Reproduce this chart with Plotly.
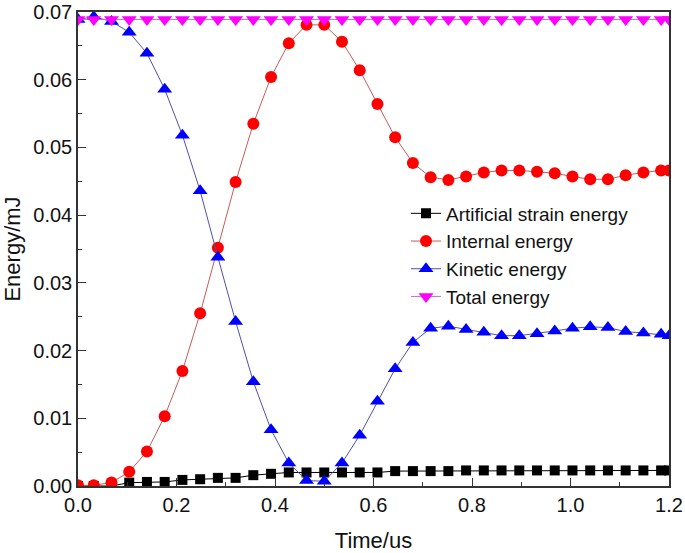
import plotly.graph_objects as go

# time points (us)
time_us = [0.0, 0.032, 0.068, 0.104, 0.140, 0.176, 0.212, 0.248, 0.284, 0.320,
           0.356, 0.392, 0.428, 0.464, 0.500, 0.536, 0.572, 0.608, 0.644, 0.680,
           0.716, 0.752, 0.788, 0.824, 0.860, 0.896, 0.932, 0.968, 1.004, 1.040,
           1.076, 1.112, 1.148, 1.184, 1.200]

# energies (mJ)
artificial_strain = [0.0, 0.0, 0.0, 0.0005, 0.0006, 0.0006, 0.0009, 0.0010, 0.0012, 0.0012,
                     0.0016, 0.0018, 0.0020, 0.0020, 0.0020, 0.0020, 0.0020, 0.0020, 0.0022, 0.0022,
                     0.0022, 0.0022, 0.0023, 0.0023, 0.0023, 0.0023, 0.0023, 0.0023, 0.0023, 0.0023,
                     0.0023, 0.0023, 0.0023, 0.0023, 0.0023]

internal = [0.0001, 0.0001, 0.0005, 0.0021, 0.0051, 0.0103, 0.0170, 0.0255, 0.0352, 0.0449,
            0.0535, 0.0604, 0.0654, 0.0681, 0.0681, 0.0656, 0.0614, 0.0564, 0.0515, 0.0477,
            0.0456, 0.0452, 0.0457, 0.0463, 0.0466, 0.0466, 0.0464, 0.0462, 0.0457, 0.0453,
            0.0453, 0.0459, 0.0463, 0.0466, 0.0466]

kinetic = [0.0689, 0.0693, 0.0686, 0.0670, 0.0639, 0.0586, 0.0518, 0.0436, 0.0338, 0.0243,
           0.0154, 0.0083, 0.0034, 0.0008, 0.0007, 0.0034, 0.0075, 0.0125, 0.0173, 0.0212,
           0.0233, 0.0236, 0.0231, 0.0227, 0.0222, 0.0222, 0.0225, 0.0229, 0.0233, 0.0235,
           0.0234, 0.0228, 0.0226, 0.0224, 0.0222]

total = [0.0689] * len(time_us)

font = "Liberation Sans, Arial, sans-serif"

fig = go.Figure()

fig.add_trace(go.Scatter(x=time_us, y=artificial_strain, mode="lines+markers",
                         name="Artificial strain energy",
                         line=dict(color="#000000", width=1),
                         marker=dict(symbol="square", size=10, color="#000000")))
fig.add_trace(go.Scatter(x=time_us, y=internal, mode="lines+markers",
                         name="Internal energy",
                         line=dict(color="rgb(200,90,90)", width=1),
                         marker=dict(symbol="circle", size=12, color="#ff0000")))
fig.add_trace(go.Scatter(x=time_us, y=kinetic, mode="lines+markers",
                         name="Kinetic energy",
                         line=dict(color="rgb(80,80,170)", width=1),
                         marker=dict(symbol="triangle-up", size=13, color="#0000ff")))
fig.add_trace(go.Scatter(x=time_us, y=total, mode="lines+markers",
                         name="Total energy",
                         line=dict(color="rgb(200,110,200)", width=1),
                         marker=dict(symbol="triangle-down", size=13, color="#ff00ff")))

axis_common = dict(showline=True, linecolor="#333333", linewidth=1.5, mirror=True,
                   showgrid=False, zeroline=False, ticks="inside", ticklen=8,
                   tickcolor="#333333", tickwidth=1, automargin=False,
                   tickfont=dict(family=font, size=20, color="#111111"))

fig.update_xaxes(range=[0, 1.2], dtick=0.2, tickformat=".1f",
                 minor=dict(ticks="inside", ticklen=4, dtick=0.1, tickcolor="#333333"),
                 title=dict(text="Time/us", font=dict(family=font, size=22, color="#111111"),
                            standoff=20),
                 **axis_common)
fig.update_yaxes(range=[0, 0.07], dtick=0.01, tickformat=".2f",
                 minor=dict(ticks="inside", ticklen=4, dtick=0.005, tickcolor="#333333"),
                 title=dict(text="Energy/mJ", font=dict(family=font, size=22, color="#111111"),
                            standoff=8),
                 **axis_common)

fig.update_layout(
    width=685, height=553,
    margin=dict(l=78, r=16, t=12, b=67),
    plot_bgcolor="white", paper_bgcolor="white",
    font=dict(family=font),
    legend=dict(x=0.555, y=0.615, xanchor="left", yanchor="top",
                bgcolor="rgba(0,0,0,0)", borderwidth=0,
                font=dict(family=font, size=19, color="#111111"),
                tracegroupgap=0),
)

# drop the default page margin so the figure sits at the window's top-left corner
fig.write_html("out.html", config={"displayModeBar": False},
               post_script="document.body.style.margin='0px';")
